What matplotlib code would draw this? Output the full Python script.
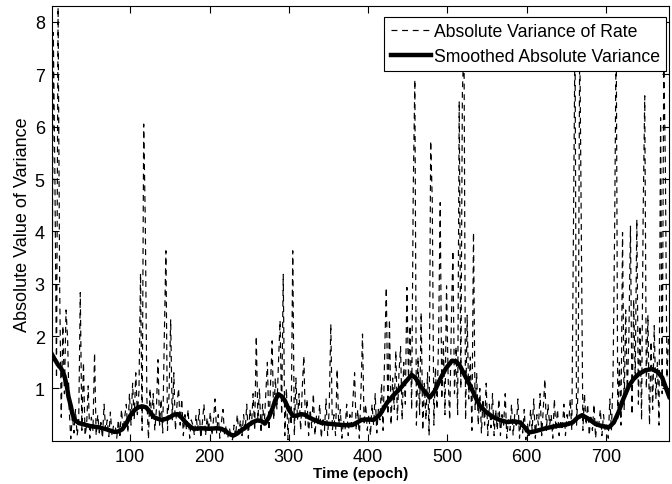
"""
Absolute variance of rate vs. time, with smoothed curve
"""

import numpy as np
import matplotlib
matplotlib.use('Agg')
import matplotlib.pyplot as plt

plt.rcParams['font.family'] = ['Liberation Sans', 'DejaVu Sans']

# raw series, one value every 2 epochs (1, 3, 5, ... 779)
raw_start, raw_step = 1, 2
raw_values = [
    0.65, 7.8, 5.0, 1.2, 8.28, 2.9, 0.45, 2.2, 0.9, 2.5, 1.95, 0.6, 0.04, 0.5, 0.15, 0.6, 0.1, 0.35, 2.83, 0.2,
    1.5, 0.1, 0.3, 1.05, 0.05, 0.45, 0.2, 1.68, 0.1, 0.5, 0.15, 0.35, 0.05, 0.7, 0.2, 0.4, 0.08, 0.55, 0.1, 0.3,
    0.3, 0.05, 0.4, 0.1, 0.6, 0.2, 0.45, 0.7, 0.15, 0.9, 0.3, 1.1, 0.4, 1.3, 0.5, 0.95, 3.2, 0.2, 6.05, 4.2,
    0.8, 0.03, 1.0, 0.4, 0.9, 0.2, 0.6, 1.55, 0.3, 0.8, 0.15, 2.0, 3.63, 0.2, 0.9, 2.32, 0.4, 1.3, 0.2, 0.7,
    1.0, 0.3, 0.8, 0.1, 0.5, 0.2, 0.6, 0.05, 0.4, 0.3, 0.1, 0.5, 0.2, 0.6, 0.05, 0.35, 0.7, 0.1, 0.45, 0.2,
    0.55, 0.1, 0.4, 0.8, 0.15, 0.5, 0.05, 0.35, 0.6, 0.1, 0.3, 0.05, 0.25, 0.1, 0.02, 0.3, 0.08, 0.5, 0.15, 0.4,
    0.1, 0.5, 0.2, 0.7, 0.05, 0.6, 0.3, 0.9, 0.2, 2.0, 0.4, 1.0, 0.15, 0.7, 0.3, 0.9, 1.5, 0.2, 1.1, 1.91,
    0.4, 1.2, 0.6, 1.5, 2.3, 0.5, 3.18, 0.1, 1.0, 0.02, 0.7, 0.3, 3.63, 0.1, 1.2, 0.4, 0.9, 0.2, 1.0, 1.62,
    0.3, 0.8, 0.1, 0.6, 0.25, 0.9, 0.1, 0.5, 0.3, 0.7, 0.05, 0.45, 0.2, 0.8, 0.1, 0.6, 2.23, 0.2, 0.5, 0.1,
    1.37, 0.3, 0.6, 0.05, 0.4, 0.2, 0.7, 0.1, 0.5, 0.3, 0.8, 1.3, 0.2, 0.6, 0.05, 0.9, 2.04, 0.3, 0.7, 0.2,
    0.5, 0.1, 0.7, 0.3, 0.9, 0.15, 0.6, 0.4, 1.1, 0.2, 1.7, 2.93, 0.5, 2.32, 0.3, 1.2, 0.6, 1.72, 0.4, 1.3,
    1.8, 0.4, 1.5, 0.7, 2.93, 1.2, 2.2, 0.6, 4.8, 6.9, 0.3, 1.6, 0.5, 2.45, 0.2, 1.1, 0.4, 1.3, 0.1, 5.73,
    4.58, 0.3, 1.4, 0.6, 2.0, 4.55, 0.8, 1.9, 0.5, 2.96, 1.2, 0.4, 2.2, 3.63, 0.9, 1.8, 0.5, 6.49, 1.0, 6.68,
    7.6, 0.4, 2.4, 0.8, 1.6, 0.2, 3.98, 0.6, 1.3, 0.3, 1.0, 0.15, 0.8, 0.3, 1.1, 0.1, 0.7, 0.25, 0.9, 0.1,
    0.6, 0.2, 0.8, 0.1, 0.5, 0.3, 0.9, 0.05, 0.4, 0.2, 0.7, 0.1, 0.5, 0.25, 0.8, 0.05, 0.4, 0.15, 0.6, 0.02,
    0.35, 0.1, 0.6, 0.2, 0.8, 0.05, 0.5, 0.3, 0.9, 0.1, 0.6, 1.18, 0.2, 0.7, 0.3, 0.5, 0.05, 0.8, 0.2, 0.6,
    0.1, 0.4, 0.2, 0.7, 0.1, 0.5, 0.3, 0.8, 0.2, 3.85, 7.8, 0.3, 1.0, 7.8, 4.04, 0.2, 0.9, 0.3, 0.7, 0.1,
    0.5, 0.2, 0.7, 0.05, 0.4, 0.3, 0.6, 0.1, 0.5, 0.2, 0.3, 0.05, 0.8, 0.2, 1.2, 3.98, 7.9, 0.4, 1.5, 0.3,
    3.98, 0.6, 2.5, 0.9, 2.0, 4.1, 0.5, 2.7, 1.2, 4.23, 0.7, 2.2, 0.4, 4.33, 6.59, 1.0, 2.4, 0.3, 1.9, 0.6,
    2.2, 0.8, 1.5, 0.3, 6.17, 0.9, 7.3, 5.3, 1.2, 2.0,
]
raw_epoch = raw_start + raw_step * np.arange(len(raw_values))

smooth_epoch = [1, 5, 10, 13, 17, 20, 22, 25, 27, 30, 35, 40, 50, 60, 70, 80, 85, 90, 95,
                100, 105, 110, 115, 120, 125, 130, 135, 140, 145, 150, 155, 160, 165, 170, 175,
                180, 190, 200, 208, 215, 220, 225, 230, 235, 240, 245, 250, 255, 260, 265, 270,
                275, 280, 283, 287, 291, 295, 300, 305, 310, 315, 320, 325, 332, 340, 348, 355,
                362, 370, 380, 386, 392, 400, 407, 415, 424, 432, 440, 447, 455, 460, 466, 472,
                478, 484, 491, 498, 506, 511, 516, 522, 529, 535, 541, 549, 558, 566, 575, 583,
                592, 598, 603, 610, 617, 624, 633, 645, 652, 658, 664, 670, 678, 687, 695, 704,
                710, 716, 722, 729, 735, 741, 750, 758, 765, 771, 776, 780]
smooth_values = [1.66, 1.55, 1.43, 1.38, 1.24, 1.05, 0.85, 0.67, 0.52, 0.40, 0.34, 0.32, 0.28,
                 0.26, 0.22, 0.17, 0.18, 0.22, 0.33, 0.48, 0.58, 0.64, 0.66, 0.64, 0.55, 0.45,
                 0.42, 0.40, 0.42, 0.45, 0.50, 0.51, 0.44, 0.35, 0.28, 0.23, 0.24, 0.23, 0.24,
                 0.23, 0.19, 0.13, 0.10, 0.14, 0.20, 0.25, 0.31, 0.36, 0.39, 0.38, 0.33, 0.45,
                 0.64, 0.78, 0.89, 0.85, 0.77, 0.60, 0.48, 0.48, 0.51, 0.50, 0.45, 0.40, 0.35,
                 0.33, 0.32, 0.31, 0.30, 0.30, 0.35, 0.40, 0.41, 0.40, 0.50, 0.73, 0.87, 0.99,
                 1.12, 1.26, 1.20, 1.05, 0.93, 0.83, 0.95, 1.18, 1.38, 1.53, 1.52, 1.43, 1.25,
                 1.05, 0.85, 0.67, 0.55, 0.45, 0.40, 0.36, 0.37, 0.35, 0.25, 0.16, 0.18, 0.21,
                 0.24, 0.27, 0.30, 0.32, 0.35, 0.44, 0.49, 0.42, 0.32, 0.28, 0.26, 0.35, 0.55,
                 0.80, 1.05, 1.18, 1.27, 1.35, 1.37, 1.32, 1.21, 1.00, 0.84]

x_ticks = [100, 200, 300, 400, 500, 600, 700]
y_ticks = [1, 2, 3, 4, 5, 6, 7, 8]

fig = plt.figure(figsize=(6.72, 4.85), dpi=100)
ax = fig.add_axes([0.077, 0.089, 0.919, 0.896])

ax.plot(raw_epoch, raw_values, color='black', linewidth=0.85,
        linestyle=(0, (5, 4)), label='Absolute Variance of Rate')
ax.plot(smooth_epoch, smooth_values, color='black', linewidth=3.2,
        solid_joinstyle='round', label='Smoothed Absolute Variance')

ax.set_xlim(1, 780)
ax.set_ylim(0.0, 8.3)
ax.set_xticks(x_ticks)
ax.set_yticks(y_ticks)
ax.tick_params(direction='in', top=True, right=True, length=5, width=0.8,
               labelsize=13, pad=5)
for s in ax.spines.values():
    s.set_linewidth(0.8)

ax.set_xlabel('Time (epoch)', fontsize=11, fontweight='bold', labelpad=1)
ax.set_ylabel('Absolute Value of Variance', fontsize=13, labelpad=3)

leg = ax.legend(loc='upper right', bbox_to_anchor=(0.9947, 0.975), borderaxespad=0,
                fontsize=12.7, handlelength=2.3, handletextpad=0.15, labelspacing=0.42,
                borderpad=0.35, fancybox=False, framealpha=1, edgecolor='black')
leg.get_frame().set_linewidth(0.8)

fig.savefig('out.png', dpi=100)
